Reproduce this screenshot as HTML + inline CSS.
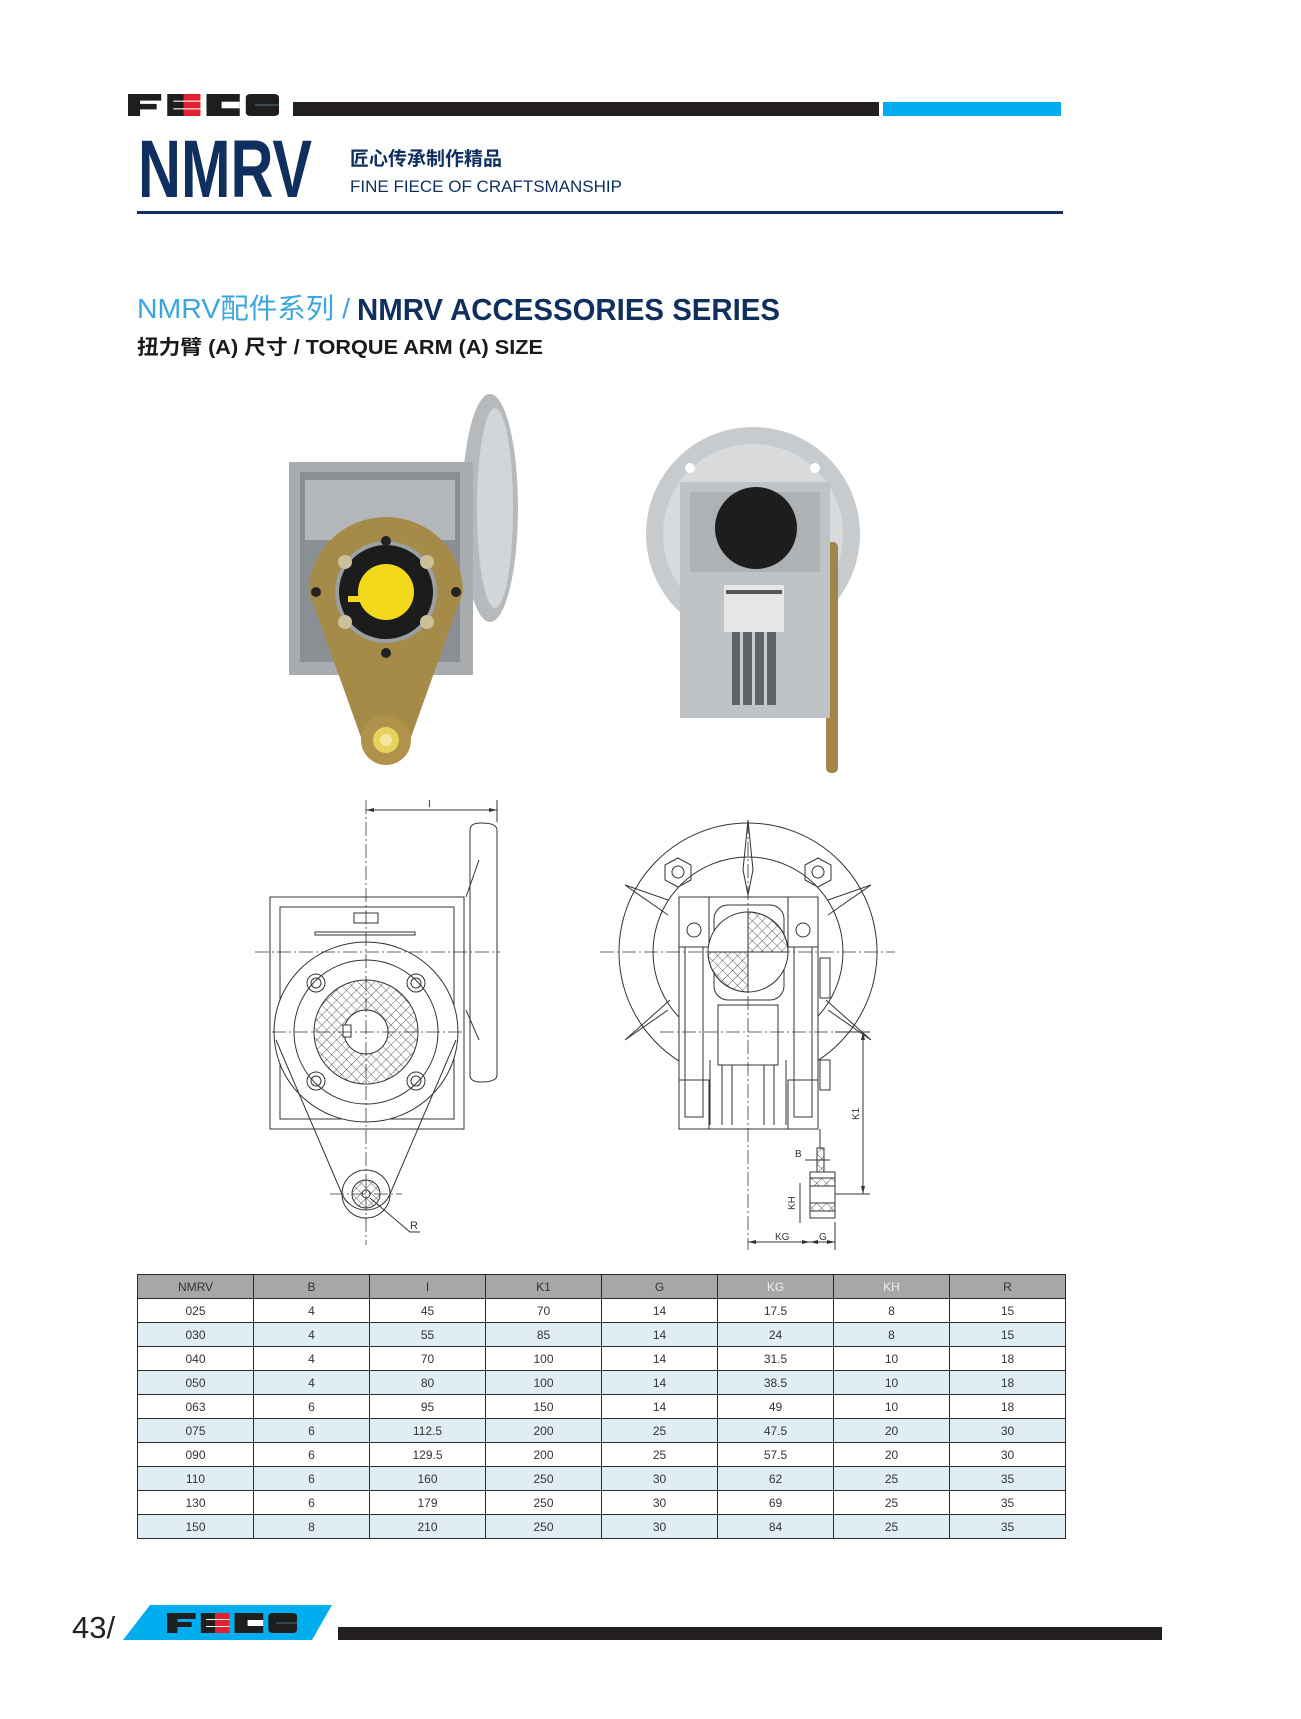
<!DOCTYPE html>
<html><head><meta charset="utf-8"><style>
body{margin:0;background:#fff;}
#p{position:relative;width:1301px;height:1719px;overflow:hidden;background:#fff;font-family:"Liberation Sans","Noto Sans CJK SC",sans-serif;}
svg{position:absolute;left:0;top:0;}
table{position:absolute;left:137px;top:1274px;width:929px;height:258px;border-collapse:collapse;table-layout:fixed;}
td{border:1px solid #2a2a2a;text-align:center;font-size:12px;color:#333;padding:0;height:23px;line-height:22px;}
tr.h td{background:#a8a6a7;color:#333;}
tr.a td{background:#e0edf3;}
</style></head><body><div id="p">
<svg width="1301" height="1719" viewBox="0 0 1301 1719" font-family="Liberation Sans, Noto Sans CJK SC, sans-serif">
<defs>
<g id="logo">
 <rect x="0" y="0" width="8" height="20" fill="#1e1e1e"/><rect x="0" y="0" width="22" height="6" fill="#1e1e1e"/><rect x="0" y="9" width="19" height="5" fill="#1e1e1e"/>
 <rect x="26" y="0" width="11" height="20" fill="#1e1e1e"/><rect x="37" y="0" width="11" height="20" fill="#e2202f"/>
 <rect x="30" y="6" width="18" height="1" fill="#fff"/><rect x="30" y="13" width="18" height="1" fill="#fff"/>
 <rect x="52" y="0" width="22" height="20" fill="#1e1e1e"/><rect x="62" y="7" width="12" height="6" fill="#fff"/>
 <rect x="78" y="0" width="22" height="20" rx="3" fill="#1e1e1e"/><rect x="84" y="9.5" width="16" height="1" fill="#4a6a80"/>
</g>
<pattern id="hx" width="7" height="7" patternUnits="userSpaceOnUse" patternTransform="rotate(45)">
 <path d="M0 0H7M0 0V7" stroke="#333" stroke-width="0.8"/></pattern>
</defs>

<!-- header -->
<use href="#logo" transform="translate(128,94) scale(1.51,1.1)"/>
<rect x="293" y="102" width="586" height="14" fill="#231f20"/>
<rect x="883" y="102" width="178" height="14" fill="#00aeef"/>
<text x="138" y="197" font-size="82" font-weight="bold" fill="#0f2f5f" textLength="174" lengthAdjust="spacingAndGlyphs">NMRV</text>
<text x="350" y="165" font-size="19" font-weight="bold" fill="#0f2f5f" font-family="Noto Sans CJK SC, sans-serif">匠心传承制作精品</text>
<text x="350" y="192" font-size="17" fill="#0f2f5f" textLength="272" lengthAdjust="spacingAndGlyphs">FINE FIECE OF CRAFTSMANSHIP</text>
<rect x="137" y="211" width="926" height="3" fill="#0f2f5f"/>

<text x="137" y="318" font-size="28" fill="#3aa6e0" font-family="Liberation Sans, Noto Sans CJK SC, sans-serif" textLength="213" lengthAdjust="spacingAndGlyphs">NMRV配件系列 /</text>
<text x="357" y="320" font-size="31" font-weight="bold" fill="#0f2f5f" textLength="423" lengthAdjust="spacingAndGlyphs">NMRV ACCESSORIES SERIES</text>
<text x="137" y="354" font-size="20" font-weight="bold" fill="#1a1a1a" textLength="406" lengthAdjust="spacingAndGlyphs">扭力臂 (A) 尺寸 / TORQUE ARM (A) SIZE</text>

<!-- left photo -->
<ellipse cx="490" cy="508" rx="28" ry="114" fill="#b6babd"/>
<ellipse cx="495" cy="508" rx="18" ry="100" fill="#d3d6d8"/>
<rect x="289" y="462" width="184" height="213" fill="#a8acaf"/>
<rect x="300" y="472" width="160" height="190" fill="#8a8f93"/>
<rect x="305" y="480" width="150" height="60" fill="#b3b7ba"/>
<path d="M309 592 A77 75 0 0 1 463 592 L410 740 L362 740 Z" fill="#a68a48"/>
<circle cx="386" cy="740" r="25" fill="#b0924c"/>
<circle cx="386" cy="740" r="13" fill="#e8d35a"/>
<circle cx="386" cy="740" r="6" fill="#f2e8a0"/>
<circle cx="386" cy="592" r="51" fill="#9aa0a4"/>
<circle cx="386" cy="592" r="47" fill="#1c1c1c"/>
<circle cx="386" cy="592" r="28" fill="#f2d91c"/>
<rect x="348" y="596" width="14" height="6" fill="#f2d91c"/>
<circle cx="345" cy="562" r="7" fill="#c9c19a"/><circle cx="427" cy="562" r="7" fill="#c9c19a"/>
<circle cx="345" cy="622" r="7" fill="#c9c19a"/><circle cx="427" cy="622" r="7" fill="#c9c19a"/>
<circle cx="386" cy="541" r="5" fill="#222"/><circle cx="386" cy="653" r="5" fill="#222"/>
<circle cx="316" cy="592" r="5" fill="#222"/><circle cx="456" cy="592" r="5" fill="#222"/>

<!-- right photo -->
<circle cx="753" cy="534" r="107" fill="#c8cbce"/>
<circle cx="753" cy="534" r="90" fill="#d8dadc"/>
<rect x="826" y="542" width="12" height="231" rx="5" fill="#a08648"/>
<rect x="680" y="482" width="150" height="236" fill="#c0c3c6"/>
<rect x="690" y="492" width="130" height="80" fill="#aeb2b5"/>
<circle cx="756" cy="528" r="41" fill="#1d1d1d"/>
<rect x="724" y="585" width="60" height="47" fill="#e4e6e8"/>
<rect x="726" y="590" width="56" height="4" fill="#555"/>
<rect x="732" y="632" width="44" height="73" fill="#5f6366"/>
<rect x="740" y="632" width="3" height="73" fill="#c8cbce"/><rect x="752" y="632" width="3" height="73" fill="#c8cbce"/><rect x="764" y="632" width="3" height="73" fill="#c8cbce"/>
<circle cx="690" cy="468" r="5" fill="#fff"/><circle cx="815" cy="468" r="5" fill="#fff"/>

<!-- left drawing -->
<g fill="none" stroke="#333" stroke-width="1">
<rect x="270" y="897" width="194" height="232"/>
<rect x="280" y="907" width="174" height="212"/>
<path d="M481 823 Q497 823 497 830 V1075 Q497 1082 481 1082 Q470 1082 470 1075 V830 Q470 823 481 823Z"/>
<path d="M466 897 L479 860 M466 1010 L479 1040"/>
<rect x="315" y="932" width="100" height="3"/>
<rect x="354" y="913" width="24" height="10"/>
<ellipse cx="366" cy="1032" rx="92" ry="90" fill="#fff"/>
<path d="M276 1040 L342 1194 M456 1040 L390 1194" />
<path d="M342 1194 A26 26 0 0 0 390 1194"/>
<circle cx="366" cy="1032" r="72"/>
<circle cx="366" cy="1032" r="52" fill="url(#hx)"/>
<circle cx="366" cy="1032" r="22" fill="#fff"/>
<rect x="343" y="1025" width="8" height="12" fill="#fff"/>
<circle cx="316" cy="983" r="9"/><circle cx="316" cy="983" r="5"/>
<circle cx="416" cy="983" r="9"/><circle cx="416" cy="983" r="5"/>
<circle cx="316" cy="1081" r="9"/><circle cx="316" cy="1081" r="5"/>
<circle cx="416" cy="1081" r="9"/><circle cx="416" cy="1081" r="5"/>
<circle cx="366" cy="1194" r="24"/>
<circle cx="366" cy="1194" r="14" fill="url(#hx)"/>
<circle cx="366" cy="1194" r="4" fill="#fff"/>
<path d="M370 1198 L410 1232 H420"/>
<path d="M366 800 V1245 M255 952 H500 M272 1032 H465 M330 1194 H402" stroke-dasharray="14 3 2 3" stroke-width="0.8"/>
<path d="M366 810 H497 M497 800 V822"/>
</g>
<path d="M366 810 l8 -2 v4z M497 810 l-8 -2 v4z" fill="#333"/>
<text x="428" y="807" font-size="10" fill="#333">I</text>
<text x="410" y="1229" font-size="11" fill="#333">R</text>

<!-- right drawing -->
<g fill="none" stroke="#333" stroke-width="1">
<circle cx="748" cy="952" r="129"/>
<circle cx="748" cy="952" r="95"/>
<path d="M748 820 L743 870 L748 895 L753 870Z M668 900 L625 885 L668 915 M828 900 L871 885 L828 915 M668 1010 L625 1040 L670 1000 M828 1010 L871 1040 L826 1000"/>
<polygon points="665,865 678,858 691,865 691,880 678,887 665,880"/><circle cx="678" cy="872" r="6"/>
<polygon points="805,865 818,858 831,865 831,880 818,887 805,880"/><circle cx="818" cy="872" r="6"/>
<rect x="679" y="897" width="139" height="232" fill="#fff"/>
<rect x="679" y="897" width="30" height="50"/><rect x="788" y="897" width="30" height="50"/>
<rect x="685" y="947" width="18" height="170"/><rect x="794" y="947" width="18" height="170"/>
<rect x="679" y="1080" width="30" height="49"/><rect x="788" y="1080" width="30" height="49"/>
<rect x="714" y="905" width="70" height="95" rx="14"/>
<circle cx="748" cy="952" r="40" fill="#fff"/>
<path d="M748 952 V912 A40 40 0 0 1 788 952Z M748 952 V992 A40 40 0 0 1 708 952Z" fill="url(#hx)"/>
<circle cx="694" cy="930" r="7"/><circle cx="803" cy="930" r="7"/>
<rect x="718" y="1005" width="60" height="60"/>
<path d="M722 1065 V1125 M732 1065 V1125 M764 1065 V1125 M774 1065 V1125 M710 1060 V1125 M786 1060 V1125"/>
<rect x="820" y="958" width="10" height="40"/><rect x="820" y="1060" width="10" height="30"/>
<path d="M820 1129 V1148"/>
<rect x="817" y="1148" width="7" height="24" fill="url(#hx)"/>
<rect x="810" y="1172" width="25" height="46" fill="#fff"/>
<rect x="810" y="1178" width="25" height="8" fill="url(#hx)"/>
<rect x="810" y="1203" width="25" height="8" fill="url(#hx)"/>
<path d="M748 820 V1250 M600 952 H895 M660 1032 H870" stroke-dasharray="14 3 2 3" stroke-width="0.8"/>
<path d="M863 1032 V1194 M835 1032 H870 M835 1194 H870 M748 1242 H835 M835 1222 V1250 M805 1160 H830 M800 1183 V1223"/>
</g>
<path d="M863 1032 l-2 8 h4z M863 1194 l-2 -8 h4z M748 1242 l8 -2 v4z M810 1242 l-8 -2 v4z M810 1242 l8 -2 v4z M835 1242 l-8 -2 v4z" fill="#333"/>
<text x="775" y="1240" font-size="10" fill="#333">KG</text>
<text x="819" y="1240" font-size="10" fill="#333">G</text>
<text x="795" y="1157" font-size="10" fill="#333">B</text>
<text transform="translate(795,1210) rotate(-90)" font-size="10" fill="#333">KH</text>
<text transform="translate(859,1120) rotate(-90)" font-size="10" fill="#333">K1</text>

<!-- footer -->
<text x="72" y="1638" font-size="31" fill="#222">43/</text>
<polygon points="150,1605 332,1605 312,1640 123,1640" fill="#00aeef"/>
<use href="#logo" transform="translate(167,1613) scale(1.3,1)"/>
<rect x="338" y="1627" width="824" height="13" fill="#231f20"/>
</svg>

<table>
<tr class="h"><td>NMRV</td><td>B</td><td>I</td><td>K1</td><td>G</td><td style="color:#eee">KG</td><td style="color:#eee">KH</td><td>R</td></tr>
<tr><td>025</td><td>4</td><td>45</td><td>70</td><td>14</td><td>17.5</td><td>8</td><td>15</td></tr>
<tr class="a"><td>030</td><td>4</td><td>55</td><td>85</td><td>14</td><td>24</td><td>8</td><td>15</td></tr>
<tr><td>040</td><td>4</td><td>70</td><td>100</td><td>14</td><td>31.5</td><td>10</td><td>18</td></tr>
<tr class="a"><td>050</td><td>4</td><td>80</td><td>100</td><td>14</td><td>38.5</td><td>10</td><td>18</td></tr>
<tr><td>063</td><td>6</td><td>95</td><td>150</td><td>14</td><td>49</td><td>10</td><td>18</td></tr>
<tr class="a"><td>075</td><td>6</td><td>112.5</td><td>200</td><td>25</td><td>47.5</td><td>20</td><td>30</td></tr>
<tr><td>090</td><td>6</td><td>129.5</td><td>200</td><td>25</td><td>57.5</td><td>20</td><td>30</td></tr>
<tr class="a"><td>110</td><td>6</td><td>160</td><td>250</td><td>30</td><td>62</td><td>25</td><td>35</td></tr>
<tr><td>130</td><td>6</td><td>179</td><td>250</td><td>30</td><td>69</td><td>25</td><td>35</td></tr>
<tr class="a"><td>150</td><td>8</td><td>210</td><td>250</td><td>30</td><td>84</td><td>25</td><td>35</td></tr>
</table>
</div></body></html>
